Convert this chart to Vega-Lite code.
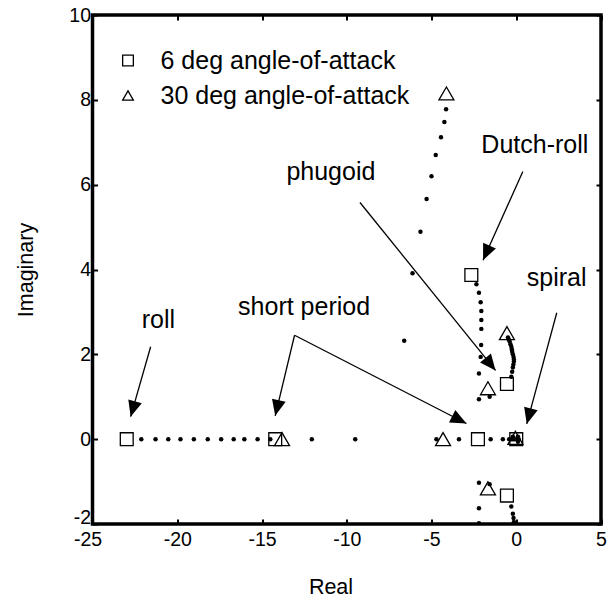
{
  "$schema": "https://vega.github.io/schema/vega-lite/v6.json",
  "width": 508.5,
  "height": 509,
  "autosize": "none",
  "padding": {"left": 92.5, "top": 15, "right": 9, "bottom": 77},
  "background": "white",
  "config": {
    "view": {"stroke": "black", "strokeWidth": 3.5},
    "font": "Liberation Sans",
    "axis": {
      "domain": false, "grid": false, "tickColor": "black", "tickWidth": 2, "tickSize": -5,
      "labelFont": "Liberation Sans", "labelFontSize": 19.5, "labelColor": "black",
      "titleFont": "Liberation Sans", "titleFontSize": 21.5, "titleFontWeight": "normal", "titleColor": "black",
      "labelFlush": false, "labelOverlap": false
    },
    "legend": {
      "labelFont": "Liberation Sans", "labelFontSize": 25, "labelColor": "black", "labelLimit": 0,
      "labelOffset": 20, "rowPadding": 9, "symbolSize": 115, "symbolStrokeWidth": 1.3,
      "symbolStrokeColor": "black", "symbolFillColor": "transparent", "padding": 0
    }
  },
  "datasets": {
    "arrows": [
      {"x0": -21.57, "y0": 2.18, "x1": -22.75, "y1": 0.53, "angle": 196},
      {"x0": -13.08, "y0": 2.45, "x1": -14.22, "y1": 0.55, "angle": 193},
      {"x0": -13.08, "y0": 2.45, "x1": -2.94, "y1": 0.37, "angle": 117},
      {"x0": -9.22, "y0": 5.58, "x1": -1.22, "y1": 1.62, "angle": 141},
      {"x0": 0.39, "y0": 6.31, "x1": -1.96, "y1": 4.22, "angle": 204},
      {"x0": 2.39, "y0": 2.98, "x1": 0.62, "y1": 0.36, "angle": 195}
    ],
    "labels": [
      {"x": -22.1, "y": 2.61, "label": "roll"},
      {"x": -16.41, "y": 2.93, "label": "short period"},
      {"x": -13.56, "y": 6.11, "label": "phugoid"},
      {"x": -2.06, "y": 6.74, "label": "Dutch-roll"},
      {"x": 0.62, "y": 3.61, "label": "spiral"}
    ],
    "dots": [
      {"x": -22.12, "y": 0}, {"x": -21.28, "y": 0}, {"x": -20.53, "y": 0}, {"x": -19.81, "y": 0},
      {"x": -19.02, "y": 0}, {"x": -18.2, "y": 0}, {"x": -17.41, "y": 0}, {"x": -16.67, "y": 0},
      {"x": -16.04, "y": 0}, {"x": -15.26, "y": 0}, {"x": -14.51, "y": 0}, {"x": -12.06, "y": 0},
      {"x": -9.5, "y": 0}, {"x": -4.71, "y": 0}, {"x": -3.38, "y": 0}, {"x": -1.51, "y": 0},
      {"x": -0.79, "y": 0}, {"x": -0.42, "y": 0}, {"x": -0.3, "y": 0}, {"x": -0.2, "y": 0},
      {"x": -0.1, "y": 0}, {"x": 0.05, "y": 0}, {"x": 0.15, "y": 0}, {"x": 0.1, "y": 0.06},
      {"x": -0.2, "y": 0.06}, {"x": 0.1, "y": -0.06},
      {"x": -4.14, "y": 7.78}, {"x": -4.24, "y": 7.48}, {"x": -4.44, "y": 7.12}, {"x": -4.75, "y": 6.7},
      {"x": -5.0, "y": 6.2}, {"x": -5.29, "y": 5.66}, {"x": -5.65, "y": 4.89}, {"x": -6.12, "y": 3.91},
      {"x": -6.61, "y": 2.32},
      {"x": -2.35, "y": 3.65}, {"x": -2.2, "y": 3.45}, {"x": -2.1, "y": 3.23}, {"x": -2.06, "y": 3.02},
      {"x": -2.06, "y": 2.81}, {"x": -2.06, "y": 2.6}, {"x": -2.07, "y": 2.22}, {"x": -2.1, "y": 1.94},
      {"x": -2.2, "y": 1.55}, {"x": -2.2, "y": 0.94}, {"x": -1.57, "y": 1.0},
      {"x": -0.49, "y": 2.4}, {"x": -0.44, "y": 2.35}, {"x": -0.39, "y": 2.3}, {"x": -0.34, "y": 2.24},
      {"x": -0.29, "y": 2.18}, {"x": -0.26, "y": 2.12}, {"x": -0.24, "y": 2.06}, {"x": -0.2, "y": 2.0},
      {"x": -0.16, "y": 1.94}, {"x": -0.14, "y": 1.88}, {"x": -0.14, "y": 1.83}, {"x": -0.17, "y": 1.76},
      {"x": -0.2, "y": 1.69}, {"x": -0.24, "y": 1.59}, {"x": -0.29, "y": 1.47},
      {"x": -2.2, "y": -1.03}, {"x": -1.57, "y": -1.06}, {"x": -2.2, "y": -1.63}, {"x": -2.2, "y": -1.98},
      {"x": -0.29, "y": -1.59}, {"x": -0.2, "y": -1.76}, {"x": -0.16, "y": -1.86}, {"x": -0.14, "y": -1.95}
    ],
    "markers": [
      {"x": -22.98, "y": 0, "series": "6 deg angle-of-attack"},
      {"x": -14.22, "y": 0, "series": "6 deg angle-of-attack"},
      {"x": -2.26, "y": 0, "series": "6 deg angle-of-attack"},
      {"x": 0.0, "y": 0, "series": "6 deg angle-of-attack"},
      {"x": -2.65, "y": 3.87, "series": "6 deg angle-of-attack"},
      {"x": -0.55, "y": 1.3, "series": "6 deg angle-of-attack"},
      {"x": -0.55, "y": -1.33, "series": "6 deg angle-of-attack"},
      {"x": -13.82, "y": 0, "series": "30 deg angle-of-attack"},
      {"x": -4.32, "y": 0, "series": "30 deg angle-of-attack"},
      {"x": -0.05, "y": 0.03, "series": "30 deg angle-of-attack"},
      {"x": -4.12, "y": 8.15, "series": "30 deg angle-of-attack"},
      {"x": -0.55, "y": 2.5, "series": "30 deg angle-of-attack"},
      {"x": -1.67, "y": 1.2, "series": "30 deg angle-of-attack"},
      {"x": -1.67, "y": -1.16, "series": "30 deg angle-of-attack"}
    ]
  },
  "layer": [
    {
      "data": {"name": "arrows"},
      "mark": {"type": "rule", "color": "black", "strokeWidth": 1.3},
      "encoding": {
        "x": {"field": "x0", "type": "quantitative", "scale": {"domain": [-25, 5], "nice": false, "zero": false},
          "axis": {"orient": "bottom", "values": [-25, -20, -15, -10, -5, 0, 5], "title": "Real", "labelPadding": 11,
            "labelExpr": "'' + datum.value",
            "labelOffset": {"condition": {"test": "datum.value == -25", "value": -5}, "value": 0},
            "titleX": 238, "titleY": 69, "titleBaseline": "alphabetic"}},
        "y": {"field": "y0", "type": "quantitative", "scale": {"domain": [-2, 10], "nice": false, "zero": false},
          "axis": {"orient": "left", "values": [-2, 0, 2, 4, 6, 8, 10], "title": "Imaginary", "labelPadding": 7,
            "labelExpr": "'' + datum.value",
            "labelOffset": {"condition": {"test": "datum.value == -2", "value": -7}, "value": 0},
            "titleX": -60, "titleY": 254.5, "titleBaseline": "alphabetic"}},
        "x2": {"field": "x1"},
        "y2": {"field": "y1"}
      }
    },
    {
      "data": {"name": "arrows"},
      "mark": {"type": "point", "shape": "M0,0L-0.4375,1L0.4375,1Z", "filled": true, "color": "black", "size": 1024, "opacity": 1, "strokeWidth": 0},
      "encoding": {
        "x": {"field": "x1", "type": "quantitative", "axis": null},
        "y": {"field": "y1", "type": "quantitative", "axis": null},
        "angle": {"field": "angle", "type": "quantitative", "scale": null}
      }
    },
    {
      "data": {"name": "labels"},
      "mark": {"type": "text", "align": "left", "baseline": "alphabetic", "fontSize": 25, "font": "Liberation Sans", "color": "black"},
      "encoding": {
        "x": {"field": "x", "type": "quantitative", "axis": null},
        "y": {"field": "y", "type": "quantitative", "axis": null},
        "text": {"field": "label"}
      }
    },
    {
      "data": {"name": "dots"},
      "mark": {"type": "point", "filled": true, "color": "black", "size": 20, "opacity": 1, "clip": true},
      "encoding": {
        "x": {"field": "x", "type": "quantitative",
          "axis": {"orient": "top", "labels": false, "title": null, "values": [-25, -20, -15, -10, -5, 0, 5]}},
        "y": {"field": "y", "type": "quantitative",
          "axis": {"orient": "right", "labels": false, "title": null, "values": [-2, 0, 2, 4, 6, 8, 10]}}
      }
    },
    {
      "data": {"name": "markers"},
      "transform": [{"filter": "datum.series == '6 deg angle-of-attack'"}],
      "mark": {"type": "point", "filled": false, "color": "black", "strokeWidth": 1.3, "opacity": 1, "size": 165, "clip": true},
      "encoding": {
        "x": {"field": "x", "type": "quantitative", "axis": null},
        "y": {"field": "y", "type": "quantitative", "axis": null},
        "shape": {"field": "series", "type": "nominal",
          "scale": {"domain": ["6 deg angle-of-attack", "30 deg angle-of-attack"], "range": ["square", "triangle-up"]},
          "legend": {"title": null, "orient": "none", "legendX": 23, "legendY": 33, "labelLimit": 0}}
      }
    },
    {
      "data": {"name": "markers"},
      "transform": [{"filter": "datum.series == '30 deg angle-of-attack'"}],
      "mark": {"type": "point", "filled": false, "color": "black", "strokeWidth": 1.3, "opacity": 1, "size": 225, "clip": true},
      "encoding": {
        "x": {"field": "x", "type": "quantitative", "axis": null},
        "y": {"field": "y", "type": "quantitative", "axis": null},
        "shape": {"field": "series", "type": "nominal",
          "scale": {"domain": ["6 deg angle-of-attack", "30 deg angle-of-attack"], "range": ["square", "triangle-up"]},
          "legend": {"title": null, "orient": "none", "legendX": 23, "legendY": 33, "labelLimit": 0}}
      }
    }
  ]
}
